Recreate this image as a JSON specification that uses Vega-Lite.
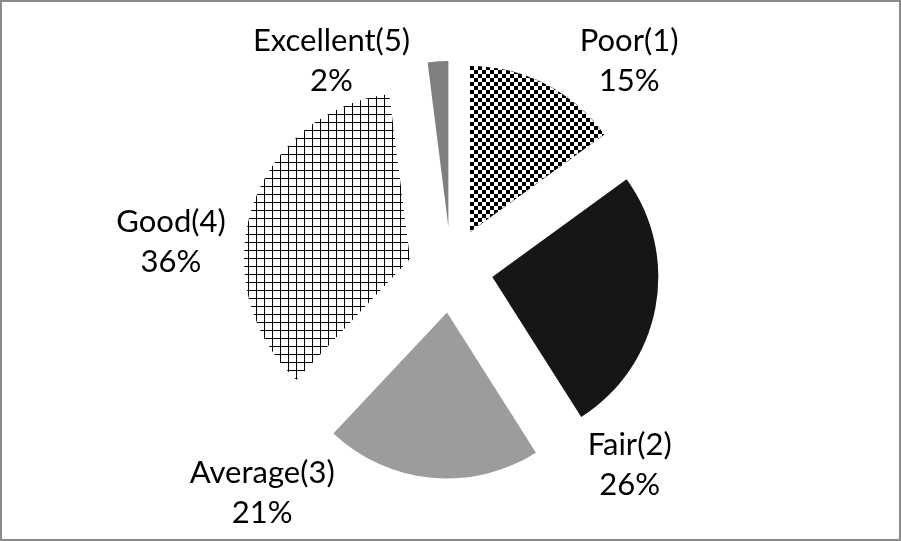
{
  "$schema": "https://vega.github.io/schema/vega-lite/v6.json",
  "width": 899,
  "height": 539,
  "padding": 1,
  "autosize": "none",
  "background": "white",
  "view": {"stroke": "#8a8a8a", "strokeWidth": 2, "fill": "white"},
  "config": {"view": {"stroke": "#8a8a8a", "strokeWidth": 2}},
  "data": {"values": [
    {"cat": "Poor(1)", "pct": 15, "order": 1},
    {"cat": "Fair(2)", "pct": 26, "order": 2},
    {"cat": "Average(3)", "pct": 21, "order": 3},
    {"cat": "Good(4)", "pct": 36, "order": 4},
    {"cat": "Excellent(5)", "pct": 2, "order": 5}
  ]},
  "transform": [
    {"stack": "pct", "groupby": [], "sort": [{"field": "order", "order": "ascending"}], "as": ["start", "end"]},
    {"calculate": "[datum.cat, datum.pct + '%']", "as": "lbl"}
  ],
  "layer": [
    {
      "transform": [{"filter": "datum.cat === 'Poor(1)'"}],
      "mark": {"type": "arc", "radius": 166, "xOffset": 19.5, "yOffset": -38.5, "strokeWidth": 0,
        "fill": {"gradient": "linear", "x1": 0, "y1": 0, "x2": 0, "y2": 1, "stops": [
          {"offset": 0, "color": "#fff"},
          {"offset": 0.0241, "color": "#fff"}, {"offset": 0.0241, "color": "#000"},
          {"offset": 0.04819, "color": "#000"}, {"offset": 0.04819, "color": "#fff"},
          {"offset": 0.07229, "color": "#fff"}, {"offset": 0.07229, "color": "#000"},
          {"offset": 0.09639, "color": "#000"}, {"offset": 0.09639, "color": "#fff"},
          {"offset": 0.12048, "color": "#fff"}, {"offset": 0.12048, "color": "#000"},
          {"offset": 0.14458, "color": "#000"}, {"offset": 0.14458, "color": "#fff"},
          {"offset": 0.16867, "color": "#fff"}, {"offset": 0.16867, "color": "#000"},
          {"offset": 0.19277, "color": "#000"}, {"offset": 0.19277, "color": "#fff"},
          {"offset": 0.21687, "color": "#fff"}, {"offset": 0.21687, "color": "#000"},
          {"offset": 0.24096, "color": "#000"}, {"offset": 0.24096, "color": "#fff"},
          {"offset": 0.26506, "color": "#fff"}, {"offset": 0.26506, "color": "#000"},
          {"offset": 0.28916, "color": "#000"}, {"offset": 0.28916, "color": "#fff"},
          {"offset": 0.31325, "color": "#fff"}, {"offset": 0.31325, "color": "#000"},
          {"offset": 0.33735, "color": "#000"}, {"offset": 0.33735, "color": "#fff"},
          {"offset": 0.36145, "color": "#fff"}, {"offset": 0.36145, "color": "#000"},
          {"offset": 0.38554, "color": "#000"}, {"offset": 0.38554, "color": "#fff"},
          {"offset": 0.40964, "color": "#fff"}, {"offset": 0.40964, "color": "#000"},
          {"offset": 0.43373, "color": "#000"}, {"offset": 0.43373, "color": "#fff"},
          {"offset": 0.45783, "color": "#fff"}, {"offset": 0.45783, "color": "#000"},
          {"offset": 0.48193, "color": "#000"}, {"offset": 0.48193, "color": "#fff"},
          {"offset": 0.50602, "color": "#fff"}, {"offset": 0.50602, "color": "#000"},
          {"offset": 0.53012, "color": "#000"}, {"offset": 0.53012, "color": "#fff"},
          {"offset": 0.55422, "color": "#fff"}, {"offset": 0.55422, "color": "#000"},
          {"offset": 0.57831, "color": "#000"}, {"offset": 0.57831, "color": "#fff"},
          {"offset": 0.60241, "color": "#fff"}, {"offset": 0.60241, "color": "#000"},
          {"offset": 0.62651, "color": "#000"}, {"offset": 0.62651, "color": "#fff"},
          {"offset": 0.6506, "color": "#fff"}, {"offset": 0.6506, "color": "#000"},
          {"offset": 0.6747, "color": "#000"}, {"offset": 0.6747, "color": "#fff"},
          {"offset": 0.6988, "color": "#fff"}, {"offset": 0.6988, "color": "#000"},
          {"offset": 0.72289, "color": "#000"}, {"offset": 0.72289, "color": "#fff"},
          {"offset": 0.74699, "color": "#fff"}, {"offset": 0.74699, "color": "#000"},
          {"offset": 0.77108, "color": "#000"}, {"offset": 0.77108, "color": "#fff"},
          {"offset": 0.79518, "color": "#fff"}, {"offset": 0.79518, "color": "#000"},
          {"offset": 0.81928, "color": "#000"}, {"offset": 0.81928, "color": "#fff"},
          {"offset": 0.84337, "color": "#fff"}, {"offset": 0.84337, "color": "#000"},
          {"offset": 0.86747, "color": "#000"}, {"offset": 0.86747, "color": "#fff"},
          {"offset": 0.89157, "color": "#fff"}, {"offset": 0.89157, "color": "#000"},
          {"offset": 0.91566, "color": "#000"}, {"offset": 0.91566, "color": "#fff"},
          {"offset": 0.93976, "color": "#fff"}, {"offset": 0.93976, "color": "#000"},
          {"offset": 0.96386, "color": "#000"}, {"offset": 0.96386, "color": "#fff"},
          {"offset": 0.98795, "color": "#fff"}, {"offset": 0.98795, "color": "#000"},
          {"offset": 1, "color": "#000"}
        ]}},
      "encoding": {
        "theta": {"field": "start", "type": "quantitative", "scale": {"domain": [0, 100]}},
        "theta2": {"field": "end"}
      }
    },
    {
      "transform": [{"filter": "datum.cat === 'Poor(1)'"}],
      "mark": {"type": "arc", "radius": 166, "xOffset": 19.5, "yOffset": -38.5, "strokeWidth": 0, "blend": "difference",
        "fill": {"gradient": "linear", "x1": 0, "y1": 0, "x2": 1, "y2": 0, "stops": [
          {"offset": 0, "color": "#fff"},
          {"offset": 0.02979, "color": "#fff"}, {"offset": 0.02979, "color": "#000"},
          {"offset": 0.05957, "color": "#000"}, {"offset": 0.05957, "color": "#fff"},
          {"offset": 0.08936, "color": "#fff"}, {"offset": 0.08936, "color": "#000"},
          {"offset": 0.11914, "color": "#000"}, {"offset": 0.11914, "color": "#fff"},
          {"offset": 0.14893, "color": "#fff"}, {"offset": 0.14893, "color": "#000"},
          {"offset": 0.17871, "color": "#000"}, {"offset": 0.17871, "color": "#fff"},
          {"offset": 0.2085, "color": "#fff"}, {"offset": 0.2085, "color": "#000"},
          {"offset": 0.23828, "color": "#000"}, {"offset": 0.23828, "color": "#fff"},
          {"offset": 0.26807, "color": "#fff"}, {"offset": 0.26807, "color": "#000"},
          {"offset": 0.29785, "color": "#000"}, {"offset": 0.29785, "color": "#fff"},
          {"offset": 0.32764, "color": "#fff"}, {"offset": 0.32764, "color": "#000"},
          {"offset": 0.35742, "color": "#000"}, {"offset": 0.35742, "color": "#fff"},
          {"offset": 0.38721, "color": "#fff"}, {"offset": 0.38721, "color": "#000"},
          {"offset": 0.41699, "color": "#000"}, {"offset": 0.41699, "color": "#fff"},
          {"offset": 0.44678, "color": "#fff"}, {"offset": 0.44678, "color": "#000"},
          {"offset": 0.47656, "color": "#000"}, {"offset": 0.47656, "color": "#fff"},
          {"offset": 0.50635, "color": "#fff"}, {"offset": 0.50635, "color": "#000"},
          {"offset": 0.53613, "color": "#000"}, {"offset": 0.53613, "color": "#fff"},
          {"offset": 0.56592, "color": "#fff"}, {"offset": 0.56592, "color": "#000"},
          {"offset": 0.5957, "color": "#000"}, {"offset": 0.5957, "color": "#fff"},
          {"offset": 0.62549, "color": "#fff"}, {"offset": 0.62549, "color": "#000"},
          {"offset": 0.65527, "color": "#000"}, {"offset": 0.65527, "color": "#fff"},
          {"offset": 0.68506, "color": "#fff"}, {"offset": 0.68506, "color": "#000"},
          {"offset": 0.71484, "color": "#000"}, {"offset": 0.71484, "color": "#fff"},
          {"offset": 0.74463, "color": "#fff"}, {"offset": 0.74463, "color": "#000"},
          {"offset": 0.77441, "color": "#000"}, {"offset": 0.77441, "color": "#fff"},
          {"offset": 0.8042, "color": "#fff"}, {"offset": 0.8042, "color": "#000"},
          {"offset": 0.83398, "color": "#000"}, {"offset": 0.83398, "color": "#fff"},
          {"offset": 0.86377, "color": "#fff"}, {"offset": 0.86377, "color": "#000"},
          {"offset": 0.89355, "color": "#000"}, {"offset": 0.89355, "color": "#fff"},
          {"offset": 0.92334, "color": "#fff"}, {"offset": 0.92334, "color": "#000"},
          {"offset": 0.95313, "color": "#000"}, {"offset": 0.95313, "color": "#fff"},
          {"offset": 0.98291, "color": "#fff"}, {"offset": 0.98291, "color": "#000"},
          {"offset": 1, "color": "#000"}
        ]}},
      "encoding": {
        "theta": {"field": "start", "type": "quantitative", "scale": {"domain": [0, 100]}},
        "theta2": {"field": "end"}
      }
    },
    {
      "transform": [{"filter": "datum.cat === 'Fair(2)'"}],
      "mark": {"type": "arc", "radius": 166, "xOffset": 41.8, "yOffset": 6.4, "strokeWidth": 0, "fill": "#161616"},
      "encoding": {
        "theta": {"field": "start", "type": "quantitative", "scale": {"domain": [0, 100]}},
        "theta2": {"field": "end"}
      }
    },
    {
      "transform": [{"filter": "datum.cat === 'Average(3)'"}],
      "mark": {"type": "arc", "radius": 166, "xOffset": -3.5, "yOffset": 42, "strokeWidth": 0, "fill": "#9c9c9c"},
      "encoding": {
        "theta": {"field": "start", "type": "quantitative", "scale": {"domain": [0, 100]}},
        "theta2": {"field": "end"}
      }
    },
    {
      "transform": [{"filter": "datum.cat === 'Good(4)'"}],
      "mark": {"type": "arc", "radius": 166, "xOffset": -40.5, "yOffset": -11.81, "strokeWidth": 0,
        "fill": {"gradient": "linear", "x1": 0, "y1": 0, "x2": 0, "y2": 1, "stops": [
          {"offset": 0, "color": "#fff"},
          {"offset": 0.014, "color": "#fff"}, {"offset": 0.014, "color": "#000"}, {"offset": 0.0175, "color": "#000"}, {"offset": 0.0175, "color": "#fff"},
          {"offset": 0.042, "color": "#fff"}, {"offset": 0.042, "color": "#000"}, {"offset": 0.0455, "color": "#000"}, {"offset": 0.0455, "color": "#fff"},
          {"offset": 0.07, "color": "#fff"}, {"offset": 0.07, "color": "#000"}, {"offset": 0.0735, "color": "#000"}, {"offset": 0.0735, "color": "#fff"},
          {"offset": 0.09801, "color": "#fff"}, {"offset": 0.09801, "color": "#000"}, {"offset": 0.10151, "color": "#000"}, {"offset": 0.10151, "color": "#fff"},
          {"offset": 0.12601, "color": "#fff"}, {"offset": 0.12601, "color": "#000"}, {"offset": 0.12951, "color": "#000"}, {"offset": 0.12951, "color": "#fff"},
          {"offset": 0.15401, "color": "#fff"}, {"offset": 0.15401, "color": "#000"}, {"offset": 0.15751, "color": "#000"}, {"offset": 0.15751, "color": "#fff"},
          {"offset": 0.18201, "color": "#fff"}, {"offset": 0.18201, "color": "#000"}, {"offset": 0.18551, "color": "#000"}, {"offset": 0.18551, "color": "#fff"},
          {"offset": 0.21001, "color": "#fff"}, {"offset": 0.21001, "color": "#000"}, {"offset": 0.21351, "color": "#000"}, {"offset": 0.21351, "color": "#fff"},
          {"offset": 0.23801, "color": "#fff"}, {"offset": 0.23801, "color": "#000"}, {"offset": 0.24151, "color": "#000"}, {"offset": 0.24151, "color": "#fff"},
          {"offset": 0.26602, "color": "#fff"}, {"offset": 0.26602, "color": "#000"}, {"offset": 0.26952, "color": "#000"}, {"offset": 0.26952, "color": "#fff"},
          {"offset": 0.29402, "color": "#fff"}, {"offset": 0.29402, "color": "#000"}, {"offset": 0.29752, "color": "#000"}, {"offset": 0.29752, "color": "#fff"},
          {"offset": 0.32202, "color": "#fff"}, {"offset": 0.32202, "color": "#000"}, {"offset": 0.32552, "color": "#000"}, {"offset": 0.32552, "color": "#fff"},
          {"offset": 0.35002, "color": "#fff"}, {"offset": 0.35002, "color": "#000"}, {"offset": 0.35352, "color": "#000"}, {"offset": 0.35352, "color": "#fff"},
          {"offset": 0.37802, "color": "#fff"}, {"offset": 0.37802, "color": "#000"}, {"offset": 0.38152, "color": "#000"}, {"offset": 0.38152, "color": "#fff"},
          {"offset": 0.40602, "color": "#fff"}, {"offset": 0.40602, "color": "#000"}, {"offset": 0.40952, "color": "#000"}, {"offset": 0.40952, "color": "#fff"},
          {"offset": 0.43402, "color": "#fff"}, {"offset": 0.43402, "color": "#000"}, {"offset": 0.43753, "color": "#000"}, {"offset": 0.43753, "color": "#fff"},
          {"offset": 0.46203, "color": "#fff"}, {"offset": 0.46203, "color": "#000"}, {"offset": 0.46553, "color": "#000"}, {"offset": 0.46553, "color": "#fff"},
          {"offset": 0.49003, "color": "#fff"}, {"offset": 0.49003, "color": "#000"}, {"offset": 0.49353, "color": "#000"}, {"offset": 0.49353, "color": "#fff"},
          {"offset": 0.51803, "color": "#fff"}, {"offset": 0.51803, "color": "#000"}, {"offset": 0.52153, "color": "#000"}, {"offset": 0.52153, "color": "#fff"},
          {"offset": 0.54603, "color": "#fff"}, {"offset": 0.54603, "color": "#000"}, {"offset": 0.54953, "color": "#000"}, {"offset": 0.54953, "color": "#fff"},
          {"offset": 0.57403, "color": "#fff"}, {"offset": 0.57403, "color": "#000"}, {"offset": 0.57753, "color": "#000"}, {"offset": 0.57753, "color": "#fff"},
          {"offset": 0.60203, "color": "#fff"}, {"offset": 0.60203, "color": "#000"}, {"offset": 0.60553, "color": "#000"}, {"offset": 0.60553, "color": "#fff"},
          {"offset": 0.63004, "color": "#fff"}, {"offset": 0.63004, "color": "#000"}, {"offset": 0.63354, "color": "#000"}, {"offset": 0.63354, "color": "#fff"},
          {"offset": 0.65804, "color": "#fff"}, {"offset": 0.65804, "color": "#000"}, {"offset": 0.66154, "color": "#000"}, {"offset": 0.66154, "color": "#fff"},
          {"offset": 0.68604, "color": "#fff"}, {"offset": 0.68604, "color": "#000"}, {"offset": 0.68954, "color": "#000"}, {"offset": 0.68954, "color": "#fff"},
          {"offset": 0.71404, "color": "#fff"}, {"offset": 0.71404, "color": "#000"}, {"offset": 0.71754, "color": "#000"}, {"offset": 0.71754, "color": "#fff"},
          {"offset": 0.74204, "color": "#fff"}, {"offset": 0.74204, "color": "#000"}, {"offset": 0.74554, "color": "#000"}, {"offset": 0.74554, "color": "#fff"},
          {"offset": 0.77004, "color": "#fff"}, {"offset": 0.77004, "color": "#000"}, {"offset": 0.77354, "color": "#000"}, {"offset": 0.77354, "color": "#fff"},
          {"offset": 0.79805, "color": "#fff"}, {"offset": 0.79805, "color": "#000"}, {"offset": 0.80155, "color": "#000"}, {"offset": 0.80155, "color": "#fff"},
          {"offset": 0.82605, "color": "#fff"}, {"offset": 0.82605, "color": "#000"}, {"offset": 0.82955, "color": "#000"}, {"offset": 0.82955, "color": "#fff"},
          {"offset": 0.85405, "color": "#fff"}, {"offset": 0.85405, "color": "#000"}, {"offset": 0.85755, "color": "#000"}, {"offset": 0.85755, "color": "#fff"},
          {"offset": 0.88205, "color": "#fff"}, {"offset": 0.88205, "color": "#000"}, {"offset": 0.88555, "color": "#000"}, {"offset": 0.88555, "color": "#fff"},
          {"offset": 0.91005, "color": "#fff"}, {"offset": 0.91005, "color": "#000"}, {"offset": 0.91355, "color": "#000"}, {"offset": 0.91355, "color": "#fff"},
          {"offset": 0.93805, "color": "#fff"}, {"offset": 0.93805, "color": "#000"}, {"offset": 0.94155, "color": "#000"}, {"offset": 0.94155, "color": "#fff"},
          {"offset": 0.96606, "color": "#fff"}, {"offset": 0.96606, "color": "#000"}, {"offset": 0.96956, "color": "#000"}, {"offset": 0.96956, "color": "#fff"},
          {"offset": 0.99406, "color": "#fff"}, {"offset": 0.99406, "color": "#000"}, {"offset": 0.99756, "color": "#000"}, {"offset": 0.99756, "color": "#fff"},
          {"offset": 1, "color": "#fff"}
        ]}},
      "encoding": {
        "theta": {"field": "start", "type": "quantitative", "scale": {"domain": [0, 100]}},
        "theta2": {"field": "end"}
      }
    },
    {
      "transform": [{"filter": "datum.cat === 'Good(4)'"}],
      "mark": {"type": "arc", "radius": 166, "xOffset": -40.5, "yOffset": -11.81, "strokeWidth": 0, "blend": "multiply",
        "fill": {"gradient": "linear", "x1": 0, "y1": 0, "x2": 1, "y2": 0, "stops": [
          {"offset": 0, "color": "#fff"},
          {"offset": 0.0241, "color": "#fff"}, {"offset": 0.0241, "color": "#000"}, {"offset": 0.03012, "color": "#000"}, {"offset": 0.03012, "color": "#fff"},
          {"offset": 0.07229, "color": "#fff"}, {"offset": 0.07229, "color": "#000"}, {"offset": 0.07831, "color": "#000"}, {"offset": 0.07831, "color": "#fff"},
          {"offset": 0.12048, "color": "#fff"}, {"offset": 0.12048, "color": "#000"}, {"offset": 0.12651, "color": "#000"}, {"offset": 0.12651, "color": "#fff"},
          {"offset": 0.16867, "color": "#fff"}, {"offset": 0.16867, "color": "#000"}, {"offset": 0.1747, "color": "#000"}, {"offset": 0.1747, "color": "#fff"},
          {"offset": 0.21687, "color": "#fff"}, {"offset": 0.21687, "color": "#000"}, {"offset": 0.22289, "color": "#000"}, {"offset": 0.22289, "color": "#fff"},
          {"offset": 0.26506, "color": "#fff"}, {"offset": 0.26506, "color": "#000"}, {"offset": 0.27108, "color": "#000"}, {"offset": 0.27108, "color": "#fff"},
          {"offset": 0.31325, "color": "#fff"}, {"offset": 0.31325, "color": "#000"}, {"offset": 0.31928, "color": "#000"}, {"offset": 0.31928, "color": "#fff"},
          {"offset": 0.36145, "color": "#fff"}, {"offset": 0.36145, "color": "#000"}, {"offset": 0.36747, "color": "#000"}, {"offset": 0.36747, "color": "#fff"},
          {"offset": 0.40964, "color": "#fff"}, {"offset": 0.40964, "color": "#000"}, {"offset": 0.41566, "color": "#000"}, {"offset": 0.41566, "color": "#fff"},
          {"offset": 0.45783, "color": "#fff"}, {"offset": 0.45783, "color": "#000"}, {"offset": 0.46386, "color": "#000"}, {"offset": 0.46386, "color": "#fff"},
          {"offset": 0.50602, "color": "#fff"}, {"offset": 0.50602, "color": "#000"}, {"offset": 0.51205, "color": "#000"}, {"offset": 0.51205, "color": "#fff"},
          {"offset": 0.55422, "color": "#fff"}, {"offset": 0.55422, "color": "#000"}, {"offset": 0.56024, "color": "#000"}, {"offset": 0.56024, "color": "#fff"},
          {"offset": 0.60241, "color": "#fff"}, {"offset": 0.60241, "color": "#000"}, {"offset": 0.60843, "color": "#000"}, {"offset": 0.60843, "color": "#fff"},
          {"offset": 0.6506, "color": "#fff"}, {"offset": 0.6506, "color": "#000"}, {"offset": 0.65663, "color": "#000"}, {"offset": 0.65663, "color": "#fff"},
          {"offset": 0.6988, "color": "#fff"}, {"offset": 0.6988, "color": "#000"}, {"offset": 0.70482, "color": "#000"}, {"offset": 0.70482, "color": "#fff"},
          {"offset": 0.74699, "color": "#fff"}, {"offset": 0.74699, "color": "#000"}, {"offset": 0.75301, "color": "#000"}, {"offset": 0.75301, "color": "#fff"},
          {"offset": 0.79518, "color": "#fff"}, {"offset": 0.79518, "color": "#000"}, {"offset": 0.8012, "color": "#000"}, {"offset": 0.8012, "color": "#fff"},
          {"offset": 0.84337, "color": "#fff"}, {"offset": 0.84337, "color": "#000"}, {"offset": 0.8494, "color": "#000"}, {"offset": 0.8494, "color": "#fff"},
          {"offset": 0.89157, "color": "#fff"}, {"offset": 0.89157, "color": "#000"}, {"offset": 0.89759, "color": "#000"}, {"offset": 0.89759, "color": "#fff"},
          {"offset": 0.93976, "color": "#fff"}, {"offset": 0.93976, "color": "#000"}, {"offset": 0.94578, "color": "#000"}, {"offset": 0.94578, "color": "#fff"},
          {"offset": 0.98795, "color": "#fff"}, {"offset": 0.98795, "color": "#000"}, {"offset": 0.99398, "color": "#000"}, {"offset": 0.99398, "color": "#fff"},
          {"offset": 1, "color": "#fff"}
        ]}},
      "encoding": {
        "theta": {"field": "start", "type": "quantitative", "scale": {"domain": [0, 100]}},
        "theta2": {"field": "end"}
      }
    },
    {
      "transform": [{"filter": "datum.cat === 'Excellent(5)'"}],
      "mark": {"type": "arc", "radius": 166, "xOffset": -2.1, "yOffset": -43.4, "strokeWidth": 0, "fill": "#808080"},
      "encoding": {
        "theta": {"field": "start", "type": "quantitative", "scale": {"domain": [0, 100]}},
        "theta2": {"field": "end"}
      }
    },
    {
      "mark": {"type": "text", "font": "Lato", "fontSize": 31, "lineHeight": 40, "align": "center", "baseline": "middle", "radius": 215, "dx": 81, "dy": -37, "color": "#000"},
      "encoding": {
        "theta": {"field": "pct", "type": "quantitative", "stack": true, "scale": {"domain": [0, 100]}},
        "order": {"field": "order", "type": "quantitative"},
        "text": {"condition": {"test": "datum.cat === 'Poor(1)'", "field": "lbl"}, "value": ""}
      }
    },
    {
      "mark": {"type": "text", "font": "Lato", "fontSize": 31, "lineHeight": 40, "align": "center", "baseline": "middle", "radius": 215, "dx": -32, "dy": 135, "color": "#000"},
      "encoding": {
        "theta": {"field": "pct", "type": "quantitative", "stack": true, "scale": {"domain": [0, 100]}},
        "order": {"field": "order", "type": "quantitative"},
        "text": {"condition": {"test": "datum.cat === 'Fair(2)'", "field": "lbl"}, "value": ""}
      }
    },
    {
      "mark": {"type": "text", "font": "Lato", "fontSize": 31, "lineHeight": 40, "align": "center", "baseline": "middle", "radius": 215, "dx": -168, "dy": -11, "color": "#000"},
      "encoding": {
        "theta": {"field": "pct", "type": "quantitative", "stack": true, "scale": {"domain": [0, 100]}},
        "order": {"field": "order", "type": "quantitative"},
        "text": {"condition": {"test": "datum.cat === 'Average(3)'", "field": "lbl"}, "value": ""}
      }
    },
    {
      "mark": {"type": "text", "font": "Lato", "fontSize": 31, "lineHeight": 40, "align": "center", "baseline": "middle", "radius": 215, "dx": -75, "dy": 19, "color": "#000"},
      "encoding": {
        "theta": {"field": "pct", "type": "quantitative", "stack": true, "scale": {"domain": [0, 100]}},
        "order": {"field": "order", "type": "quantitative"},
        "text": {"condition": {"test": "datum.cat === 'Good(4)'", "field": "lbl"}, "value": ""}
      }
    },
    {
      "mark": {"type": "text", "font": "Lato", "fontSize": 31, "lineHeight": 40, "align": "center", "baseline": "middle", "radius": 215, "dx": -105.5, "dy": -14, "color": "#000"},
      "encoding": {
        "theta": {"field": "pct", "type": "quantitative", "stack": true, "scale": {"domain": [0, 100]}},
        "order": {"field": "order", "type": "quantitative"},
        "text": {"condition": {"test": "datum.cat === 'Excellent(5)'", "field": "lbl"}, "value": ""}
      }
    }
  ]
}
